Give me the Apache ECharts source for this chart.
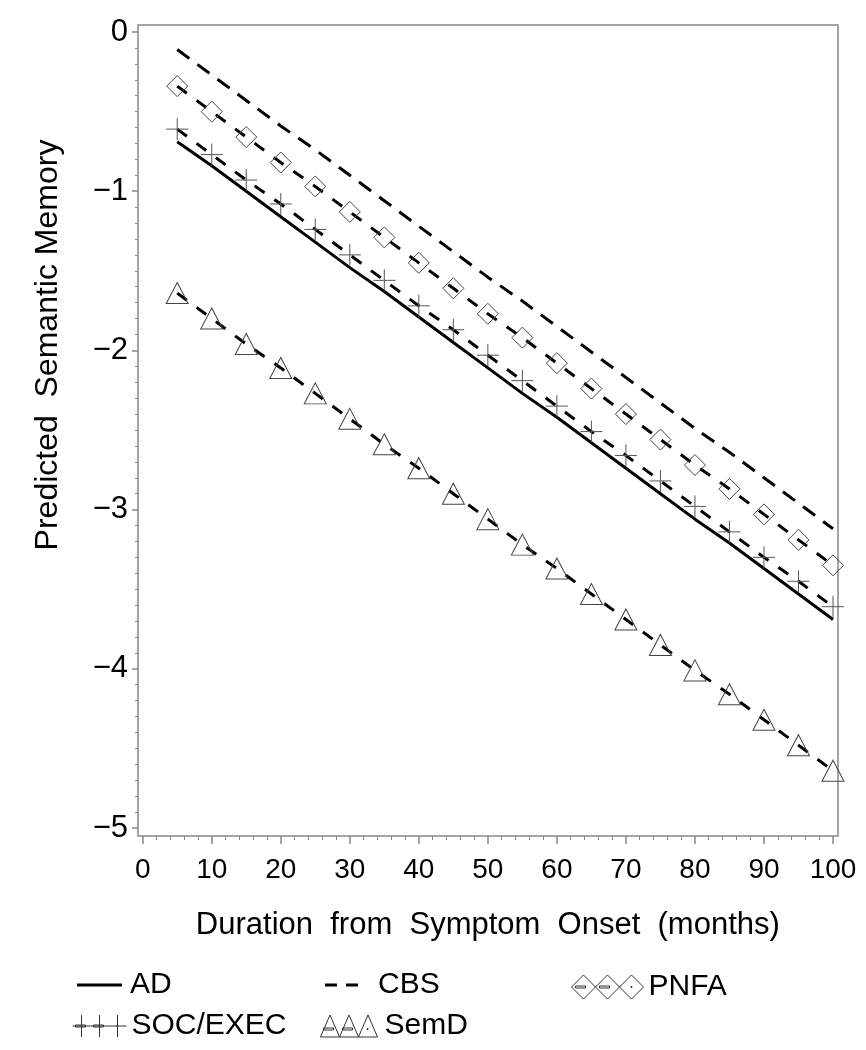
<!DOCTYPE html>
<html>
<head>
<meta charset="utf-8">
<script src="https://cdn.jsdelivr.net/npm/echarts@6/dist/echarts.min.js"></script>
<style>
html,body{margin:0;padding:0;background:#fff;}
#chart{width:866px;height:1050px;}
</style>
</head>
<body>
<div id="chart"></div>
<script>
const months = [5,10,15,20,25,30,35,40,45,50,55,60,65,70,75,80,85,90,95,100];
const AD   = [-0.69,-0.84,-1.00,-1.16,-1.32,-1.48,-1.63,-1.79,-1.95,-2.11,-2.27,-2.42,-2.58,-2.74,-2.90,-3.06,-3.21,-3.37,-3.53,-3.69];
const CBS  = [-0.11,-0.27,-0.43,-0.59,-0.74,-0.90,-1.06,-1.22,-1.38,-1.54,-1.69,-1.85,-2.01,-2.17,-2.33,-2.49,-2.64,-2.80,-2.96,-3.12];
const PNFA = [-0.34,-0.50,-0.66,-0.82,-0.97,-1.13,-1.29,-1.45,-1.61,-1.77,-1.92,-2.08,-2.24,-2.40,-2.56,-2.72,-2.87,-3.03,-3.19,-3.35];
const SOC  = [-0.61,-0.77,-0.93,-1.08,-1.24,-1.40,-1.56,-1.72,-1.87,-2.03,-2.19,-2.35,-2.51,-2.66,-2.82,-2.98,-3.14,-3.30,-3.45,-3.61];
const SemD = [-1.64,-1.80,-1.96,-2.11,-2.27,-2.43,-2.59,-2.74,-2.90,-3.06,-3.22,-3.37,-3.53,-3.69,-3.85,-4.01,-4.16,-4.32,-4.48,-4.64];
const seriesNames = ['AD','CBS','PNFA','SOC/EXEC','SemD'];
const xTitle = 'Duration  from  Symptom  Onset  (months)';
const yTitle = 'Predicted  Semantic Memory';

const FONT = '"Liberation Sans", Arial, sans-serif';
const pts = arr => months.map((m,i)=>[m, arr[i]]);
const plusPath = 'path://M0,11L22,11M11,0L11,22';
const markerStyle = {color:'rgba(0,0,0,0)', borderColor:'#444', borderWidth:1};
const plusStyle = {color:'rgba(0,0,0,0)', borderColor:'#555', borderWidth:1};

const lineBase = (name, data, dash, extra) => Object.assign({
  name, type:'line', xAxisIndex:1, yAxisIndex:1, data: pts(data),
  lineStyle:{color:'#000', width:3, type: dash},
  showSymbol:false, symbol:'none', silent:true, animation:false, z:3
}, extra||{});

const series = [
  lineBase(seriesNames[0], AD, 'solid'),
  lineBase(seriesNames[1], CBS, [15,10]),
  lineBase(seriesNames[2], PNFA, [12,12], {symbol:'diamond', showSymbol:true, symbolSize:[21,21], itemStyle:markerStyle}),
  lineBase(seriesNames[3], SOC, [12,12], {symbol:plusPath, showSymbol:true, symbolSize:[22,22], itemStyle:plusStyle}),
  lineBase(seriesNames[4], SemD, [12,12], {symbol:'triangle', showSymbol:true, symbolSize:[22,21], itemStyle:markerStyle})
];

const legTxt = {fontFamily:FONT, fontSize:30, color:'#000'};
const iconStroke = {color:'rgba(0,0,0,0)', borderColor:'#333', borderWidth:1};
const legends = [
  {data:[{name:'AD', icon:'rect', itemStyle:{color:'#000', borderWidth:0}}], left:77, top:970, itemWidth:45, itemHeight:3, textStyle:Object.assign({padding:[0,0,0,3]},legTxt)},
  {data:[{name:'CBS', icon:'path://M0,0h12v3h-12zM21,0h12v3h-12z', itemStyle:{color:'#000', borderWidth:0}}], left:325, top:970, itemWidth:33, itemHeight:3, textStyle:Object.assign({padding:[0,0,0,15]},legTxt)},
  {data:[{name:'PNFA', icon:'path://M0,12L12,0L24,12L12,24ZM24,12L36,0L48,12L36,24ZM48,12L60,0L72,12L60,24ZM4,11h10v2h-10zM28,11h10v2h-10zM59.5,11.5h1v1h-1z', itemStyle:iconStroke}], left:571, top:972, itemWidth:72, itemHeight:24, textStyle:Object.assign({padding:[0,0,0,0]},legTxt)},
  {data:[{name:'SOC/EXEC', icon:'path://M0,11L18,11M9,0L9,22M18,11L36,11M27,0L27,22M36,11L54,11M45,0L45,22M3,10h10v2h-10zM21,10h10v2h-10zM44.5,10.5h1v1h-1z', itemStyle:iconStroke}], left:72, top:1011, itemWidth:54, itemHeight:22, textStyle:Object.assign({padding:[0,0,0,0]},legTxt)},
  {data:[{name:'SemD', icon:'path://M0,22L9.5,0L19,22ZM19,22L28.5,0L38,22ZM38,22L47.5,0L57,22ZM3,13h10v2h-10zM22,13h10v2h-10zM46.5,13.5h1v1h-1z', itemStyle:iconStroke}], left:320, top:1011, itemWidth:57, itemHeight:22, textStyle:Object.assign({padding:[0,0,0,2]},legTxt)}
].map(l => Object.assign({orient:'horizontal', selectedMode:false, itemGap:0, padding:0, symbolKeepAspect:false}, l));

const option = {
  backgroundColor:'#fff',
  animation:false,
  legend: legends,
  graphic:[
    {type:'text', x:48, y:345, rotation:Math.PI/2, silent:true,
     style:{text:yTitle, fontFamily:FONT, fontSize:32, fill:'#000', textAlign:'center', textVerticalAlign:'middle'}}
  ],
  grid:[
    {left:138, top:25, width:700, height:811, show:true, borderColor:'#888', borderWidth:1.5, backgroundColor:'transparent'},
    {left:142.7, top:32, width:690.3, height:796, show:false}
  ],
  xAxis:[
    {gridIndex:0, type:'value', min:0, max:1, show:false},
    {gridIndex:1, type:'value', min:0, max:100, interval:10, position:'bottom', offset:8,
     name:xTitle, nameLocation:'middle', nameGap:74,
     nameTextStyle:{fontFamily:FONT, fontSize:31, color:'#000'},
     axisLine:{show:false, onZero:false},
     axisTick:{show:true, inside:false, length:8, lineStyle:{color:'#888', width:1.5}},
     minorTick:{show:true, splitNumber:5, length:4, lineStyle:{color:'#888', width:1}},
     axisLabel:{margin:20, fontFamily:FONT, fontSize:28, color:'#000'},
     splitLine:{show:false}, minorSplitLine:{show:false}}
  ],
  yAxis:[
    {gridIndex:0, type:'value', min:0, max:1, show:false},
    {gridIndex:1, type:'value', min:-5, max:0, interval:1, position:'left', offset:4.7,
     axisLine:{show:false, onZero:false},
     axisTick:{show:true, inside:false, length:6, lineStyle:{color:'#888', width:1.5}},
     minorTick:{show:true, splitNumber:10, length:3, lineStyle:{color:'#888', width:1}},
     axisLabel:{margin:10, fontFamily:FONT, fontSize:31, color:'#000',
       formatter: v => String(v).replace('-', '\u2212')},
     splitLine:{show:false}, minorSplitLine:{show:false}}
  ],
  series: series
};

const chart = echarts.init(document.getElementById('chart'), null, {renderer:'canvas'});
chart.setOption(option);
</script>
</body>
</html>
